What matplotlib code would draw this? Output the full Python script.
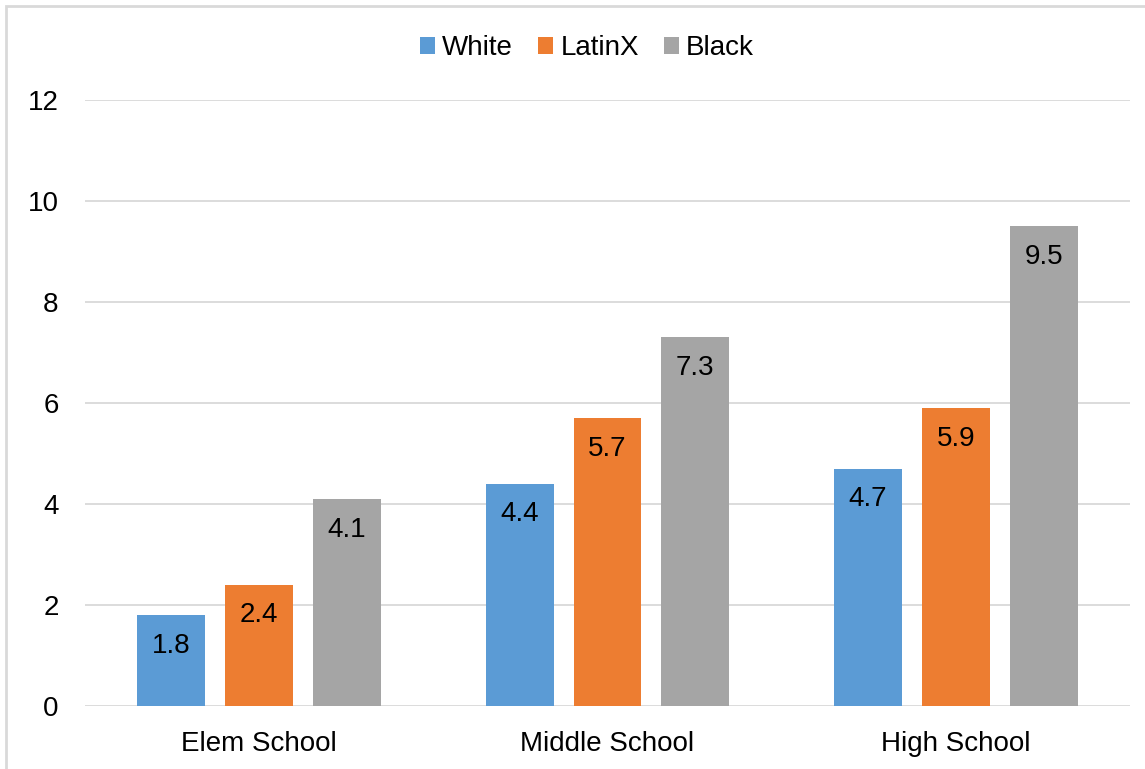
import matplotlib.pyplot as plt
from matplotlib.patches import Rectangle
import numpy as np

plt.rcParams['font.family'] = ['Liberation Sans', 'DejaVu Sans']

categories = ["Elem School", "Middle School", "High School"]
series_names = ["White", "LatinX", "Black"]
white = [1.8, 4.4, 4.7]
latinx = [2.4, 5.7, 5.9]
black = [4.1, 7.3, 9.5]
colors = ["#5B9BD5", "#ED7D31", "#A5A5A5"]

fig = plt.figure(figsize=(11.45, 7.69), dpi=100)
ax = fig.add_axes([85 / 1145, 1 - 706 / 769, (1130 - 85) / 1145, 606 / 769])

x = np.arange(len(categories))
width = 0.195
offset = 0.252

for i, (vals, name, c) in enumerate(zip([white, latinx, black], series_names, colors)):
    bars = ax.bar(x + (i - 1) * offset, vals, width, color=c, label=name, zorder=3)
    for b, v in zip(bars, vals):
        ax.annotate(f"{v}", (b.get_x() + b.get_width() / 2, v),
                    xytext=(0, -22), textcoords="offset points",
                    ha="center", va="center", fontsize=20, color="#000000", zorder=4)

ax.set_xlim(-0.5, 2.5)
ax.set_ylim(0, 12)
ax.set_yticks(range(0, 13, 2))
ax.set_xticks(x)
ax.set_xticklabels(categories)
ax.yaxis.grid(True, color="#d9d9d9", linewidth=1.3, zorder=0)
ax.tick_params(axis="both", length=0, labelsize=20, colors="#000000")
ax.tick_params(axis="y", pad=19)
ax.tick_params(axis="x", pad=18)
for s in ax.spines.values():
    s.set_visible(False)

fig.legend(loc="center", bbox_to_anchor=(587 / 1145, 1 - 48 / 769), ncol=3,
           frameon=False, fontsize=20, handlelength=0.55, handleheight=0.55,
           handletextpad=0.25, columnspacing=0.9)

fig.patches.append(Rectangle((6 / 1145, -0.05), 1.1, 1 - 6 / 769 + 0.05,
                             transform=fig.transFigure, fill=False,
                             edgecolor="#d9d9d9", linewidth=2))

fig.savefig("out.png", dpi=100)
